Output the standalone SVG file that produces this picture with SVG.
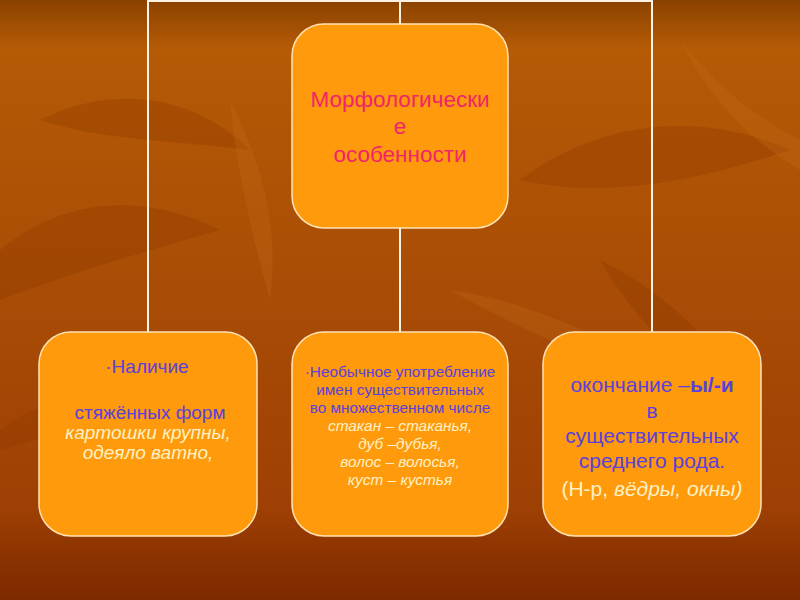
<svg xmlns="http://www.w3.org/2000/svg" width="800" height="600" viewBox="0 0 800 600">
<defs>
<linearGradient id="bg" x1="0" y1="0" x2="0" y2="1">
<stop offset="0" stop-color="#8A4200"/>
<stop offset="0.08" stop-color="#B55A05"/>
<stop offset="0.5" stop-color="#A84C06"/>
<stop offset="0.85" stop-color="#9E4004"/>
<stop offset="0.93" stop-color="#8A3200"/>
<stop offset="1" stop-color="#7E2A00"/>
</linearGradient>
<style>
.box{fill:#FE9A0C;stroke:#FFE2B4;stroke-width:1.5}
.conn{stroke:#FFF4E4;stroke-width:2;fill:none}
.t{font-family:"Liberation Sans",Arial,sans-serif;text-anchor:middle}
.pink{fill:#F0246A}
.blue{fill:#5A40DC}
.cream{fill:#FFF1C4;font-style:italic}
.leaf{fill:#8E3A00;opacity:0.35}
.leafl{fill:#C8701A;opacity:0.25}
</style>
</defs>
<rect width="800" height="600" fill="url(#bg)"/>
<g id="texture">
<path class="leaf" d="M0 250 C60 200 140 190 220 230 C150 250 80 270 0 300Z"/>
<path class="leaf" d="M520 180 C600 120 700 110 790 150 C700 180 610 200 520 180Z"/>
<path class="leaf" d="M600 260 C640 330 700 380 760 420 C720 350 680 300 600 260Z"/>
<path class="leaf" d="M40 120 C120 80 200 100 250 150 C170 140 100 140 40 120Z"/>
<path class="leafl" d="M450 290 C520 300 600 330 660 380 C590 360 520 330 450 290Z"/>
<path class="leafl" d="M230 100 C260 160 280 220 270 300 C250 230 235 160 230 100Z"/>
<path class="leaf" d="M0 430 C40 400 90 390 130 400 C90 420 40 440 0 450Z"/>
<path class="leafl" d="M680 40 C720 90 760 120 800 140 L800 170 C750 140 710 100 680 40Z"/>
</g>
<g id="connectors">
<path class="conn" d="M148 332 V1 H652 V332"/>
<path class="conn" d="M400 1 V25"/>
<path class="conn" d="M400 228 V332"/>
</g>
<g id="root">
<rect class="box" x="292" y="24" width="216" height="204" rx="32"/>
<text class="t pink" font-size="22.5"><tspan x="400" y="107">Морфологически</tspan><tspan x="400" y="134">е</tspan><tspan x="400" y="162">особенности</tspan></text>
</g>
<g id="left">
<rect class="box" x="39" y="332" width="218" height="204" rx="32"/>
<text class="t" font-size="19"><tspan class="blue" x="147" y="373">·Наличие</tspan><tspan class="blue" x="150" y="419">стяжённых форм</tspan><tspan class="cream" x="148" y="439">картошки крупны,</tspan><tspan class="cream" x="148" y="459">одеяло ватно,</tspan></text>
</g>
<g id="middle">
<rect class="box" x="292" y="332" width="216" height="204" rx="32"/>
<text class="t" font-size="15.4"><tspan class="blue" x="400" y="377">·Необычное употребление</tspan><tspan class="blue" x="400" y="395">имен существительных</tspan><tspan class="blue" x="400" y="413">во множественном числе</tspan><tspan class="cream" x="400" y="431">стакан – стаканья,</tspan><tspan class="cream" x="400" y="449">дуб –дубья,</tspan><tspan class="cream" x="400" y="467">волос – волосья,</tspan><tspan class="cream" x="400" y="485">куст – кустья</tspan></text>
</g>
<g id="right">
<rect class="box" x="543" y="332" width="218" height="204" rx="32"/>
<text class="t blue" font-size="21"><tspan x="652" y="392">окончание –<tspan font-weight="bold">ы/-и</tspan></tspan><tspan x="652" y="418">в</tspan><tspan x="652" y="443">существительных</tspan><tspan x="652" y="468">среднего рода.</tspan><tspan x="652" y="496" fill="#FFF1C4">(Н-р, <tspan font-style="italic">вёдры, окны)</tspan></tspan></text>
</g>
</svg>
